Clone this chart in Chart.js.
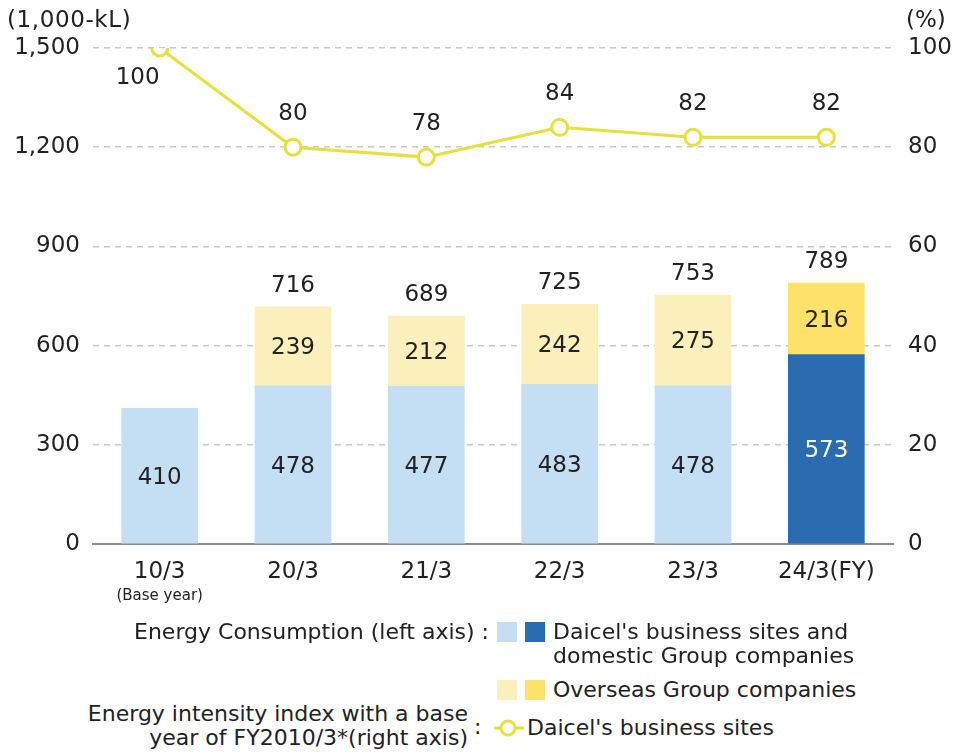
<!DOCTYPE html>
<html>
<head>
<meta charset="utf-8">
<script src="https://cdn.jsdelivr.net/npm/chart.js@4/dist/chart.umd.min.js"></script>
<style>
  body { margin: 0; background: #fff; }
  #wrap { position: relative; width: 958px; height: 753px; font-family: "DejaVu Sans", sans-serif; color: #222; }
  #chartBox { position: absolute; left: 0; top: 0; width: 958px; height: 620px; }
  .t { position: absolute; white-space: nowrap; line-height: 1; }
  .lg { font-family: "DejaVu Sans", sans-serif; font-size: 22px; color: #222; }
  .box { position: absolute; width: 20px; height: 20px; }
</style>
</head>
<body>
<div id="wrap">
  <div id="chartBox"><canvas id="chart" width="958" height="620"></canvas></div>

  <div class="t" style="left:7px; top:8px; font-size:23px; letter-spacing:0.6px;">(1,000-kL)</div>
  <div class="t" style="left:906px; top:8px; font-size:23px;">(%)</div>

  <div class="t lg" style="right:469px; top:621px;">Energy Consumption (left axis) :</div>
  <div class="box" style="left:497px; top:622px; background:#c4def3;"></div>
  <div class="box" style="left:525px; top:622px; background:#2b6cb0;"></div>
  <div class="t lg" style="left:553px; top:621px;">Daicel's business sites and</div>
  <div class="t lg" style="left:553px; top:645px;">domestic Group companies</div>
  <div class="box" style="left:497px; top:680px; background:#fbefbc;"></div>
  <div class="box" style="left:525px; top:680px; background:#fde169;"></div>
  <div class="t lg" style="left:553px; top:679px;">Overseas Group companies</div>
  <div class="t lg" style="right:490px; top:703px;">Energy intensity index with a base</div>
  <div class="t lg" style="right:490px; top:727px;">year of FY2010/3*(right axis)</div>
  <div class="t lg" style="left:474px; top:716px;">:</div>
  <svg style="position:absolute; left:494px; top:717px;" width="30" height="22">
    <line x1="0" y1="11" x2="30" y2="11" stroke="#e6df3c" stroke-width="3"/>
    <circle cx="14" cy="11" r="7" fill="#fff" stroke="#e6df3c" stroke-width="3"/>
  </svg>
  <div class="t lg" style="left:527px; top:717px;">Daicel's business sites</div>
</div>

<script>
const categories = ['10/3', '20/3', '21/3', '22/3', '23/3', '24/3(FY)'];
const domestic = [410, 478, 477, 483, 478, 573];
const overseas = [null, 239, 212, 242, 275, 216];
const totals = [null, 716, 689, 725, 753, 789];
const intensity = [100, 80, 78, 84, 82, 82];
const leftTicks = [0, 300, 600, 900, 1200, 1500];
const rightTicks = [0, 20, 40, 60, 80, 100];

const domesticColors = ['#c4def3', '#c4def3', '#c4def3', '#c4def3', '#c4def3', '#2b6cb0'];
const overseasColors = ['#fbefbc', '#fbefbc', '#fbefbc', '#fbefbc', '#fbefbc', '#fde169'];
const lineColor = '#e6df3c';
const numFont = { family: 'DejaVu Sans', size: 23 };

// draws value labels and the "(Base year)" note
const valueLabels = {
    id: 'valueLabels',
    afterDatasetsDraw(chart) {
        const ctx = chart.ctx;
        const x = chart.scales.x, y = chart.scales.y, y1 = chart.scales.y1;
        ctx.save();
        ctx.textAlign = 'center';
        ctx.textBaseline = 'middle';
        ctx.font = '23px "DejaVu Sans"';
        categories.forEach((c, i) => {
            let px = x.getPixelForValue(i);
            let d = domestic[i], o = overseas[i];
            ctx.fillStyle = i === 5 ? '#ffffff' : '#222';
            ctx.fillText(d, px, (y.getPixelForValue(0) + y.getPixelForValue(d)) / 2 + 2);
            if (o) {
                ctx.fillStyle = '#222';
                ctx.fillText(o, px, (y.getPixelForValue(d) + y.getPixelForValue(d + o)) / 2 + 2);
                ctx.fillText(totals[i], px, y.getPixelForValue(totals[i]) - 21);
            }
            let ly = y1.getPixelForValue(intensity[i]);
            if (i === 0) {
                ctx.fillText(intensity[i], px - 22, ly + 30);
            } else {
                ctx.fillText(intensity[i], px, ly - 33);
            }
        });
        ctx.font = '15px "DejaVu Sans"';
        ctx.fillText('(Base year)', x.getPixelForValue(0), 596);
        ctx.restore();
    }
};

new Chart(document.getElementById('chart'), {
    type: 'bar',
    data: {
        labels: categories,
        datasets: [
            {
                type: 'line',
                label: "Daicel's business sites",
                data: intensity,
                yAxisID: 'y1',
                borderColor: lineColor,
                borderWidth: 3,
                pointRadius: 8,
                pointBorderWidth: 3,
                pointBackgroundColor: '#ffffff',
                pointBorderColor: lineColor,
                order: 0,
            },
            {
                label: "Daicel's business sites and domestic Group companies",
                data: domestic,
                backgroundColor: domesticColors,
                yAxisID: 'y',
                barThickness: 76,
                order: 1,
            },
            {
                label: 'Overseas Group companies',
                data: overseas,
                backgroundColor: overseasColors,
                yAxisID: 'y',
                barThickness: 76,
                order: 1,
            },
        ]
    },
    options: {
        responsive: false,
        animation: false,
        devicePixelRatio: 1,
        layout: { padding: { top: 48, left: 0, right: 0, bottom: 0 } },
        scales: {
            x: {
                stacked: true,
                grid: { display: false },
                border: { display: true, color: '#8c8c8c', width: 2 },
                ticks: { font: numFont, color: '#222', padding: 6 },
                afterFit: s => { s.height = 76; },
            },
            y: {
                stacked: true,
                position: 'left',
                min: leftTicks[0],
                max: leftTicks[leftTicks.length - 1],
                ticks: {
                    stepSize: 300,
                    font: numFont,
                    color: '#222',
                    padding: 13,
                    callback: v => v.toLocaleString('en-US'),
                },
                grid: {
                    color: c => c.tick && c.tick.value === 0 ? 'rgba(0,0,0,0)' : '#c8c8c8',
                    lineWidth: 1.5,
                    drawTicks: false,
                },
                border: { display: false, dash: [6, 5] },
                afterFit: s => { s.width = 93; },
            },
            y1: {
                position: 'right',
                min: rightTicks[0],
                max: rightTicks[rightTicks.length - 1],
                ticks: { stepSize: 20, font: numFont, color: '#222', padding: 15 },
                grid: { display: false, drawTicks: false },
                border: { display: false },
                afterFit: s => { s.width = 65; },
            },
        },
        plugins: {
            legend: { display: false },
            tooltip: { enabled: false },
        },
    },
    plugins: [valueLabels]
});
</script>
</body>
</html>
